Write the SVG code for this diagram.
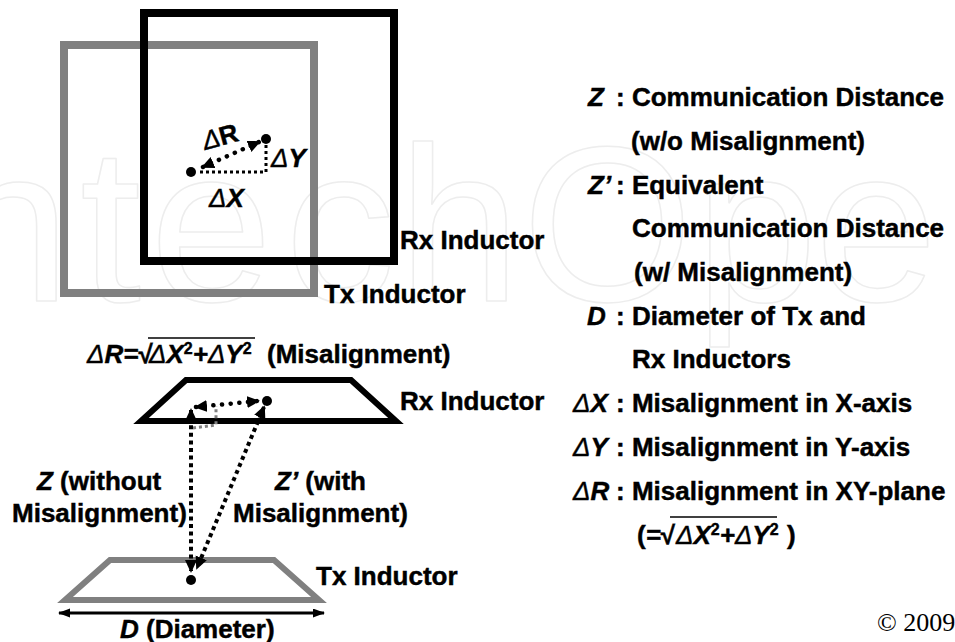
<svg xmlns="http://www.w3.org/2000/svg" width="955" height="642" viewBox="0 0 955 642">
<style>
text{font-family:"Liberation Sans",Arial,sans-serif;font-weight:bold;font-size:26px;fill:#000;stroke:#000;stroke-width:.45px}
.i{font-style:italic}
.d{font-style:italic;font-weight:normal;stroke-width:.4px}
.s{font-size:16px;font-style:normal}
text.w{font-size:220px;font-weight:normal;fill:none;stroke:#ededed;stroke-width:1.5px;stroke-linejoin:round}
.e{fill:none;stroke-linejoin:miter}
.dot{fill:none;stroke:#000;stroke-width:4.5;stroke-linecap:round;stroke-dasharray:.1 8.6}
.sq{fill:none;stroke:#000;stroke-width:3;stroke-dasharray:3 3}
.sq4{fill:none;stroke:#000;stroke-width:4;stroke-dasharray:4 3.6}
.gd{fill:none;stroke:#808080;stroke-width:3;stroke-dasharray:3 3}
.rule{stroke:#000;stroke-width:1.5;fill:none}
</style>
<defs>
<marker id="a" markerWidth="14" markerHeight="14" refX="11" refY="6" orient="auto-start-reverse" markerUnits="userSpaceOnUse"><path d="M0 0L13 6L0 12z" fill="#000"/></marker>
<marker id="b" markerWidth="12" markerHeight="12" refX="11" refY="4.5" orient="auto-start-reverse" markerUnits="userSpaceOnUse"><path d="M0 0L12 4.5L0 9z" fill="#000"/></marker>
</defs>
<text class="w" x="-52 80 150 285 398 522 695 815 945" y="301">ntechOpen</text>
<g id="tx-square"><rect class="e" x="64" y="45" width="250" height="248" stroke="#808080" stroke-width="8"/></g>
<g id="rx-square"><rect class="e" x="144" y="13" width="250" height="248" stroke="#000" stroke-width="8"/></g>
<g id="rx-trapezoid"><path class="e" d="M186 380H351L396 421H141Z" stroke="#000" stroke-width="6"/></g>
<g id="tx-trapezoid"><path class="e" d="M110 560H274L319 600H65Z" stroke="#808080" stroke-width="6"/></g>
<g id="connectors">
<path class="sq" d="M200 172H266V143"/>
<path class="dot" d="M203 167L259 142" marker-start="url(#a)" marker-end="url(#a)"/>
<path class="gd" d="M193 428L216 425V406"/>
<path class="dot" d="M196 407L258 401" marker-start="url(#a)" marker-end="url(#a)"/>
<path class="sq4" d="M191 410V571" marker-start="url(#a)" marker-end="url(#a)"/>
<path class="sq4" d="M264 407L197 568" marker-start="url(#a)" marker-end="url(#a)"/>
<path d="M59 613H324" stroke="#000" stroke-width="3" marker-start="url(#b)" marker-end="url(#b)"/>
</g>
<g id="dots"><circle cx="191" cy="172" r="5"/><circle cx="266" cy="139" r="5"/><circle cx="267" cy="401" r="5"/><circle cx="191" cy="580" r="5"/></g>
<g id="labels-top">
<text x="205" y="150" transform="rotate(-15 205 150)"><tspan class="d">Δ</tspan>R</text>
<text x="271" y="167"><tspan class="d">Δ</tspan><tspan class="i">Y</tspan></text>
<text x="209" y="207"><tspan class="d">Δ</tspan><tspan class="i">X</tspan></text>
<text x="400" y="249">Rx Inductor</text>
<text x="324" y="303">Tx Inductor</text>
</g>
<g id="labels-bottom">
<path class="rule" d="M148 338H255"/>
<text x="87" y="363"><tspan class="d">Δ</tspan><tspan class="i">R=</tspan>√<tspan x="149" class="d">Δ</tspan><tspan class="i">X</tspan><tspan class="s" dy="-9">2</tspan><tspan class="i" dy="9">+</tspan><tspan class="d">Δ</tspan><tspan class="i">Y</tspan><tspan class="s" dy="-9">2</tspan><tspan x="267" dy="9">(Misalignment)</tspan></text>
<text x="400" y="410">Rx Inductor</text>
<text x="37" y="490"><tspan class="i">Z</tspan> (without</text>
<text x="12" y="522">Misalignment)</text>
<text x="275" y="490"><tspan class="i">Z’</tspan> (with</text>
<text x="233" y="522">Misalignment)</text>
<text x="316" y="585">Tx Inductor</text>
<text x="120" y="638"><tspan class="i">D</tspan> (Diameter)</text>
</g>
<g id="legend">
<text x="588" y="106"><tspan class="i">Z</tspan><tspan x="616">: Communication Distance</tspan></text>
<text x="631" y="150">(w/o Misalignment)</text>
<text x="588" y="194"><tspan class="i">Z’</tspan><tspan x="616">: Equivalent</tspan></text>
<text x="632" y="237">Communication Distance</text>
<text x="634" y="281">(w/ Misalignment)</text>
<text x="587" y="325"><tspan class="i">D</tspan><tspan x="616">: Diameter of Tx and</tspan></text>
<text x="632" y="368">Rx Inductors</text>
<text x="573" y="412"><tspan class="d">Δ</tspan><tspan class="i">X</tspan><tspan x="616">: Misalignment in X-axis</tspan></text>
<text x="573" y="456"><tspan class="d">Δ</tspan><tspan class="i">Y</tspan><tspan x="616">: Misalignment in Y-axis</tspan></text>
<text x="573" y="500"><tspan class="d">Δ</tspan><tspan class="i">R</tspan><tspan x="616">: Misalignment in XY-plane</tspan></text>
<path class="rule" d="M670 517H777"/>
<text x="637" y="544">(<tspan class="i">=</tspan>√<tspan x="676" class="d">Δ</tspan><tspan class="i">X</tspan><tspan class="s" dy="-9">2</tspan><tspan class="i" dy="9">+</tspan><tspan class="d">Δ</tspan><tspan class="i">Y</tspan><tspan class="s" dy="-9">2</tspan><tspan x="787" dy="9">)</tspan></text>
<text x="877" y="631" style="font-family:'Liberation Serif',serif;font-weight:normal;stroke:none;font-size:26px">© 2009</text>
</g>
</svg>
